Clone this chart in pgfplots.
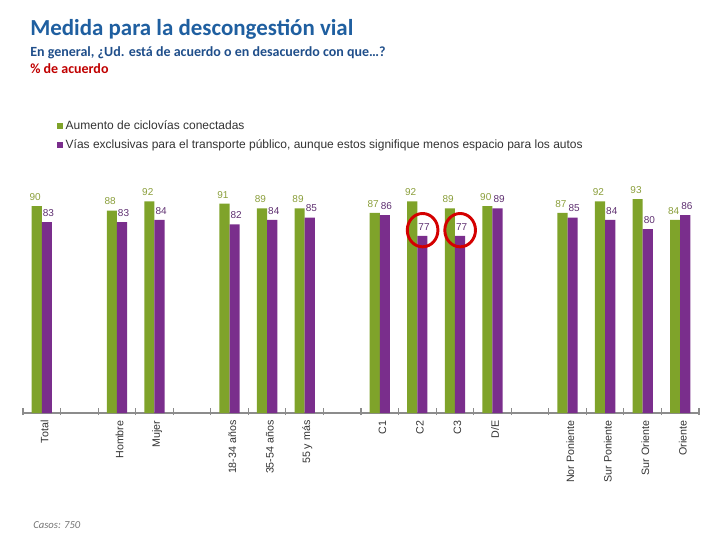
\documentclass[border=0pt]{standalone}
\usepackage{pgfplots}
\pgfplotsset{compat=1.18}
\usepackage{fontspec}
\setmainfont{Liberation Sans}
\newfontfamily\carlito{Carlito}
\definecolor{cgreen}{HTML}{7FA32A}
\definecolor{cpurple}{HTML}{7A2E8C}
\definecolor{lgreen}{HTML}{8A9E3A}
\definecolor{lpurple}{HTML}{5E2F70}
\definecolor{ctitle}{HTML}{1F5FA0}
\definecolor{csub}{HTML}{1F4E8A}
\definecolor{cred}{HTML}{C00000}
\definecolor{ccirc}{HTML}{D40000}
\begin{document}
\begin{tikzpicture}
\useasboundingbox (0,0) rectangle (540pt,405pt);
\node[anchor=base west, inner sep=0pt, text=ctitle] at (22.5pt,378pt) {\carlito\bfseries\fontsize{17.2}{19}\selectfont Medida para la descongestión vial};
\node[anchor=base west, inner sep=0pt, text=csub] at (22.5pt,362.25pt) {\carlito\bfseries\fontsize{10.5}{12}\selectfont En general, ¿Ud. está de acuerdo o en desacuerdo con que…?};
\node[anchor=base west, inner sep=0pt, text=cred] at (22.5pt,349.5pt) {\carlito\bfseries\fontsize{10.5}{12}\selectfont \% de acuerdo};
\node[anchor=base west, inner sep=0pt, text=black!55] at (24.75pt,9pt) {\carlito\itshape\fontsize{8}{10}\selectfont Casos: 750};
\begin{axis}[
  at={(17.25pt,95.25pt)}, anchor=south west,
  scale only axis, width=507pt, height=172.5pt,
  xmin=-0.5, xmax=17.5, ymin=0, ymax=100,
  axis y line=none, axis x line*=bottom,
  x axis line style={draw=black!45, line width=1pt},
  xtick={0,2,3,5,6,7,9,10,11,12,14,15,16,17},
  xticklabels={Total,Hombre,Mujer,18-34 años,35-54 años,55 y más,C1,C2,C3,D/E,Nor Poniente,Sur Poniente,Sur Oriente,Oriente},
  major tick length=0pt,
  minor xtick={-0.5,0.5,...,17.5},
  minor tick length=5pt,
  minor x tick style={draw=black!45, line width=0.8pt, yshift=-1.5pt},
  xticklabel shift=3pt,
  xticklabel style={rotate=90, anchor=east, font=\fontsize{8}{9}\selectfont, text=black!80, inner sep=0pt, xshift=-2.5pt, yshift=-2pt},
  clip=false,
  /pgf/number format/assume math mode=true,
  legend style={at={(rel axis cs:0.05,1.283)}, anchor=north west, draw=none, fill=none,
    font=\fontsize{9}{11}\selectfont, text=black!80, row sep=2pt, inner sep=0pt,
    cells={anchor=west}},
  legend image code/.code={\fill[#1] (0pt,-2.2pt) rectangle (4.5pt,2.3pt);},
  every node near coord/.append style={font=\fontsize{7.5}{9}\selectfont, anchor=south, inner sep=0pt, yshift=4pt},
]
\addplot[ybar, bar width=0.27, bar shift=-0.135, fill=cgreen, draw=none,
  nodes near coords, every node near coord/.append style={text=lgreen, xshift=-5pt}] coordinates {
  (0,90) (2,88) (3,92) (5,91) (6,89) (7,89) (9,87) (10,92) (11,89) (12,90) (14,87) (15,92) (16,93) (17,84)};
\addlegendentry{Aumento de ciclovías conectadas}
\addplot[ybar, bar width=0.27, bar shift=0.135, fill=cpurple, draw=none,
  nodes near coords, every node near coord/.append style={text=lpurple, xshift=5pt}] coordinates {
  (0,83) (2,83) (3,84) (5,82) (6,84) (7,85) (9,86) (10,77) (11,77) (12,89) (14,85) (15,84) (16,80) (17,86)};
\addlegendentry{Vías exclusivas para el transporte público, aunque estos signifique menos espacio para los autos}
\draw[ccirc, line width=2.2pt] (axis cs:10.14,79.5) ellipse (11.5pt and 12.5pt);
\draw[ccirc, line width=2.2pt] (axis cs:11.14,79.5) ellipse (11.5pt and 12.5pt);
\end{axis}
\end{tikzpicture}
\end{document}
